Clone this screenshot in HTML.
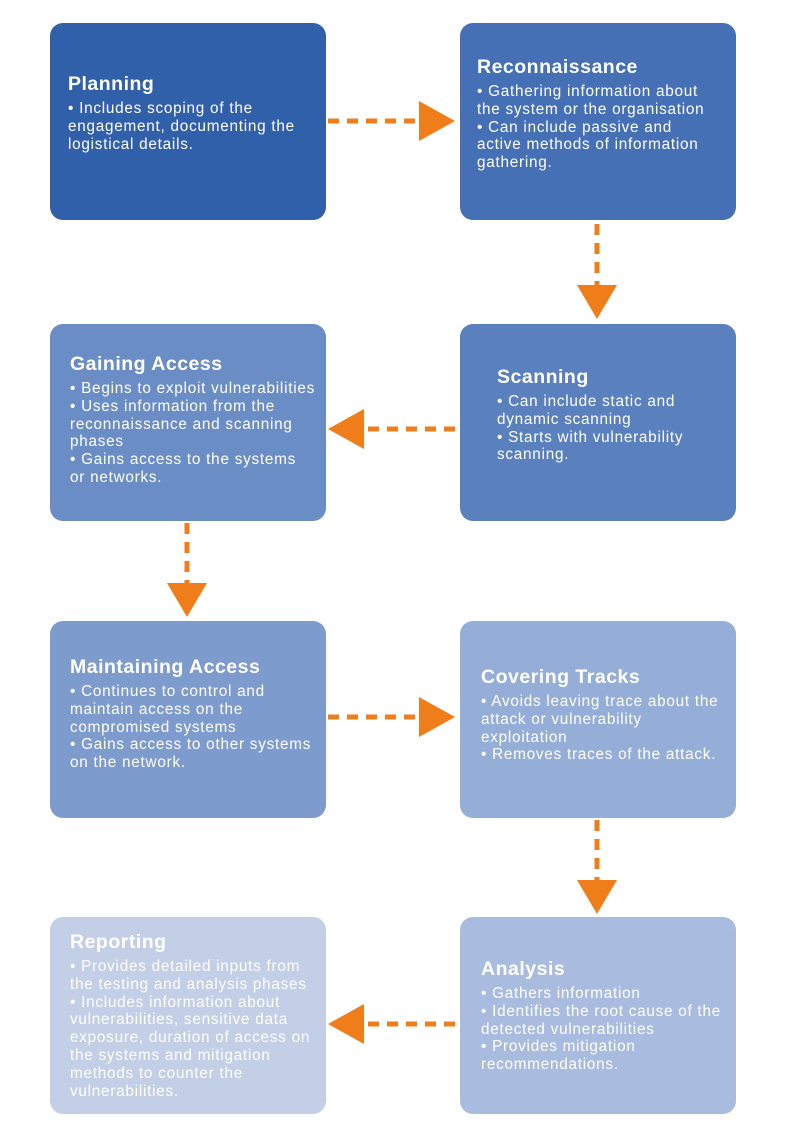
<!DOCTYPE html>
<html><head><meta charset="utf-8"><style>
body{margin:0;width:800px;height:1131px;background:#fff;position:relative;font-family:"Liberation Sans",sans-serif;overflow:hidden}
.b{position:absolute;width:276px;height:197px;border-radius:13px}
.t{position:absolute;color:#fff;white-space:nowrap}
.t h{display:block;font-size:19.5px;font-weight:bold;line-height:24px;margin-bottom:4px;letter-spacing:0.5px}
.t p{margin:0;font-size:15.3px;line-height:17.8px;letter-spacing:0.75px}
svg{position:absolute;left:0;top:0}
</style></head><body>
<div class="b" style="left:50px;top:23px;background:#3060aa"></div>
<div class="b" style="left:460px;top:23px;background:#4670b6"></div>
<div class="b" style="left:460px;top:324px;background:#5a80be"></div>
<div class="b" style="left:50px;top:324px;background:#6b8dc6"></div>
<div class="b" style="left:50px;top:621px;background:#7e9bcd"></div>
<div class="b" style="left:460px;top:621px;background:#95aed7"></div>
<div class="b" style="left:460px;top:917px;background:#a9bcdf"></div>
<div class="b" style="left:50px;top:917px;background:#c2cfe6"></div>

<div class="t" style="left:68px;top:72px"><h>Planning</h><p>• Includes scoping of the<br>engagement, documenting the<br>logistical details.</p></div>
<div class="t" style="left:477px;top:55px"><h>Reconnaissance</h><p>• Gathering information about<br>the system or the organisation<br>• Can include passive and<br>active methods of information<br>gathering.</p></div>
<div class="t" style="left:70px;top:352px"><h>Gaining Access</h><p>• Begins to exploit vulnerabilities<br>• Uses information from the<br>reconnaissance and scanning<br>phases<br>• Gains access to the systems<br>or networks.</p></div>
<div class="t" style="left:497px;top:365px"><h>Scanning</h><p>• Can include static and<br>dynamic scanning<br>• Starts with vulnerability<br>scanning.</p></div>
<div class="t" style="left:70px;top:655px"><h>Maintaining Access</h><p>• Continues to control and<br>maintain access on the<br>compromised systems<br>• Gains access to other systems<br>on the network.</p></div>
<div class="t" style="left:481px;top:665px"><h>Covering Tracks</h><p>• Avoids leaving trace about the<br>attack or vulnerability<br>exploitation<br>• Removes traces of the attack.</p></div>
<div class="t" style="left:481px;top:957px"><h>Analysis</h><p>• Gathers information<br>• Identifies the root cause of the<br>detected vulnerabilities<br>• Provides mitigation<br>recommendations.</p></div>
<div class="t" style="left:70px;top:930px"><h>Reporting</h><p>• Provides detailed inputs from<br>the testing and analysis phases<br>• Includes information about<br>vulnerabilities, sensitive data<br>exposure, duration of access on<br>the systems and mitigation<br>methods to counter the<br>vulnerabilities.</p></div>

<svg width="800" height="1131">
<g stroke="#ef7d1a" stroke-width="5" stroke-dasharray="11,8" fill="none">
<line x1="328" y1="121" x2="422" y2="121"/>
<line x1="597" y1="224" x2="597" y2="287"/>
<line x1="455" y1="429" x2="362" y2="429"/>
<line x1="187" y1="523" x2="187" y2="584"/>
<line x1="328" y1="717" x2="422" y2="717"/>
<line x1="597" y1="820" x2="597" y2="882"/>
<line x1="455" y1="1024" x2="362" y2="1024"/>
</g>
<g fill="#ef7d1a">
<polygon points="419,101 455,121 419,141"/>
<polygon points="577,285 617,285 597,319"/>
<polygon points="364,409 364,449 328,429"/>
<polygon points="167,583 207,583 187,617"/>
<polygon points="419,697 455,717 419,737"/>
<polygon points="577,880 617,880 597,914"/>
<polygon points="364,1004 364,1044 328,1024"/>
</g>
</svg>
</body></html>
